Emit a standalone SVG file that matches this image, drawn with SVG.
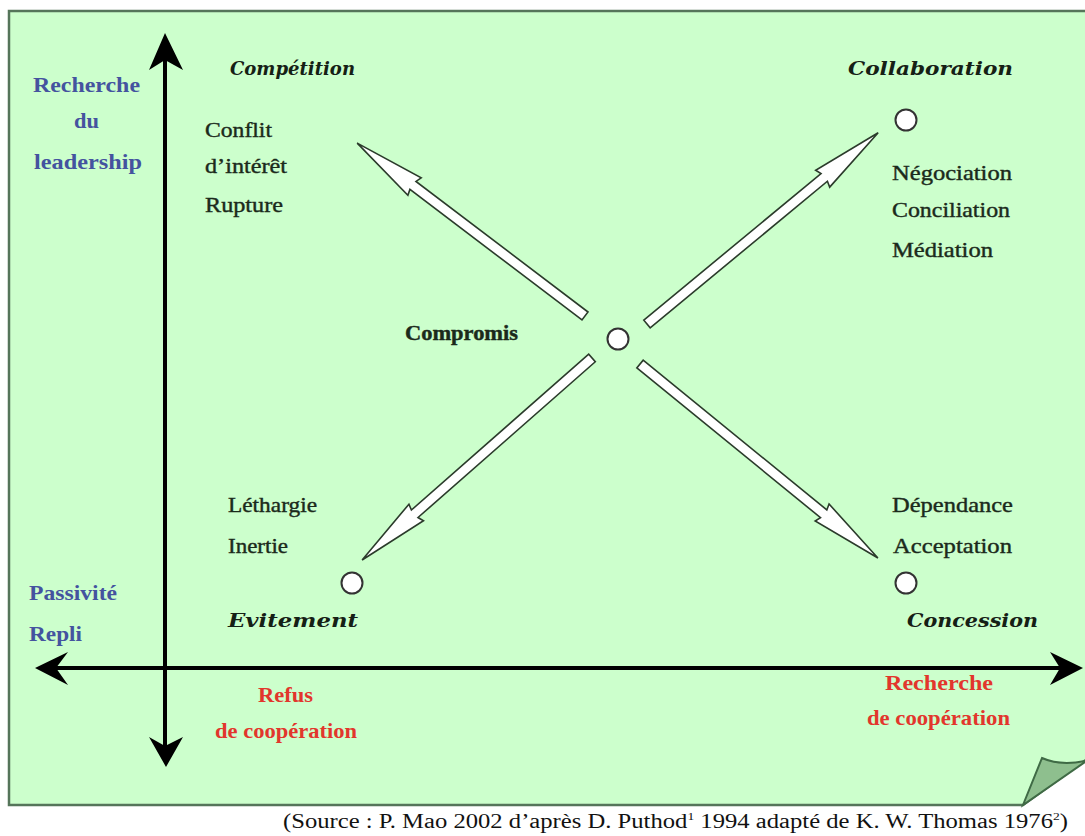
<svg xmlns="http://www.w3.org/2000/svg" width="1085" height="836" viewBox="0 0 1085 836">
<style>
.body{font-family:"Liberation Serif","Times New Roman",serif;font-size:21px;fill:#1b2a1b;stroke:#1b2a1b;stroke-width:0.4}
.bold{font-weight:bold}
.blue{font-family:"Liberation Serif","Times New Roman",serif;font-size:21px;font-weight:bold;fill:#44539f}
.red{font-family:"Liberation Serif","Times New Roman",serif;font-size:21px;font-weight:bold;fill:#e2362c}
.title{font-family:"DejaVu Serif",serif;font-size:19px;font-weight:bold;font-style:italic;fill:#152015}
.cap{font-family:"Liberation Serif","Times New Roman",serif;font-size:20px;fill:#111}
.node{fill:#ffffff;stroke:#333;stroke-width:2}
.barrow{fill:#ffffff;stroke:#2b3b2b;stroke-width:1.6;stroke-linejoin:miter}
.axis{stroke:#000;stroke-width:4;fill:none}
.head{fill:#000}
</style>
<g id="frame">
<path d="M9,11 L1090,11 L1090,757 L1023,805 L9,805 Z" fill="#ccffcc" stroke="#55755a" stroke-width="2.5"/>
<path d="M1023,805 L1042,758 Q1060,766 1085,761 L1085,762 Z" fill="#8ebf8e" stroke="#3f6a45" stroke-width="2"/>
</g>
<g id="axes">
<line class="axis" x1="165" y1="55" x2="165" y2="750"/>
<polygon class="head" points="165,33 183,70 165,60 149,70"/>
<polygon class="head" points="166,767 183,737 165,746 149,737"/>
<line class="axis" x1="52" y1="668" x2="1065" y2="668"/>
<polygon class="head" points="35,668 68,652 56,668 68,685"/>
<polygon class="head" points="1083,668 1050,652 1060,668 1050,685"/>
</g>
<g id="connectors">
<polygon class="barrow" transform="translate(585,316) rotate(-142.8)" points="0,-5 216,-5 214,-11 286,0 214,11 216,5 0,5"/>
<polygon class="barrow" transform="translate(647,324) rotate(-39.6)" points="0,-5 230,-5 228,-11 300,0 228,11 230,5 0,5"/>
<polygon class="barrow" transform="translate(592,358) rotate(138.7)" points="0,-5 236,-5 234,-11 306,0 234,11 236,5 0,5"/>
<polygon class="barrow" transform="translate(640,364) rotate(39.2)" points="0,-5 237,-5 235,-11 307,0 235,11 237,5 0,5"/>
</g>
<g id="axis-labels">
<text class="blue" x="33" y="92" textLength="107" lengthAdjust="spacingAndGlyphs">Recherche</text>
<text class="blue" x="74" y="128" textLength="25" lengthAdjust="spacingAndGlyphs">du</text>
<text class="blue" x="34" y="169" textLength="108" lengthAdjust="spacingAndGlyphs">leadership</text>
<text class="blue" x="29" y="600" textLength="88" lengthAdjust="spacingAndGlyphs">Passivité</text>
<text class="blue" x="29" y="641" textLength="53" lengthAdjust="spacingAndGlyphs">Repli</text>
<text class="red" x="258" y="702" textLength="55" lengthAdjust="spacingAndGlyphs">Refus</text>
<text class="red" x="215" y="738" textLength="142" lengthAdjust="spacingAndGlyphs">de coopération</text>
<text class="red" x="885" y="690" textLength="108" lengthAdjust="spacingAndGlyphs">Recherche</text>
<text class="red" x="867" y="725" textLength="143" lengthAdjust="spacingAndGlyphs">de coopération</text>
</g>
<g id="competition">
<text class="title" x="230" y="75" textLength="125" lengthAdjust="spacingAndGlyphs">Compétition</text>
<text class="body" x="205" y="137" textLength="67" lengthAdjust="spacingAndGlyphs">Conflit</text>
<text class="body" x="205" y="173" textLength="82" lengthAdjust="spacingAndGlyphs">d’intérêt</text>
<text class="body" x="205" y="212" textLength="78" lengthAdjust="spacingAndGlyphs">Rupture</text>
</g>
<g id="collaboration">
<text class="title" x="848" y="75" textLength="165" lengthAdjust="spacingAndGlyphs">Collaboration</text>
<circle class="node" cx="906" cy="120" r="10.5"/>
<text class="body" x="892" y="180" textLength="120" lengthAdjust="spacingAndGlyphs">Négociation</text>
<text class="body" x="892" y="217" textLength="118" lengthAdjust="spacingAndGlyphs">Conciliation</text>
<text class="body" x="892" y="257" textLength="101" lengthAdjust="spacingAndGlyphs">Médiation</text>
</g>
<g id="compromis">
<text class="body bold" x="405" y="340" textLength="113" lengthAdjust="spacingAndGlyphs">Compromis</text>
<circle class="node" cx="618" cy="339" r="10.5"/>
</g>
<g id="evitement">
<text class="body" x="228" y="512" textLength="89" lengthAdjust="spacingAndGlyphs">Léthargie</text>
<text class="body" x="228" y="553" textLength="60" lengthAdjust="spacingAndGlyphs">Inertie</text>
<circle class="node" cx="352" cy="583" r="10.5"/>
<text class="title" x="228" y="627" textLength="130" lengthAdjust="spacingAndGlyphs">Evitement</text>
</g>
<g id="concession">
<text class="body" x="892" y="512" textLength="121" lengthAdjust="spacingAndGlyphs">Dépendance</text>
<text class="body" x="893" y="553" textLength="119" lengthAdjust="spacingAndGlyphs">Acceptation</text>
<circle class="node" cx="906" cy="583" r="10.5"/>
<text class="title" x="907" y="627" textLength="131" lengthAdjust="spacingAndGlyphs">Concession</text>
</g>
<g id="caption">
<text class="cap" x="283" y="828" textLength="785" lengthAdjust="spacingAndGlyphs">(Source : P. Mao 2002 d’après D. Puthod<tspan font-size="11" dy="-8">1</tspan><tspan dy="8"> 1994 adapté de K. W. Thomas 1976</tspan><tspan font-size="11" dy="-8">2</tspan><tspan dy="8">)</tspan></text>
</g>
</svg>
